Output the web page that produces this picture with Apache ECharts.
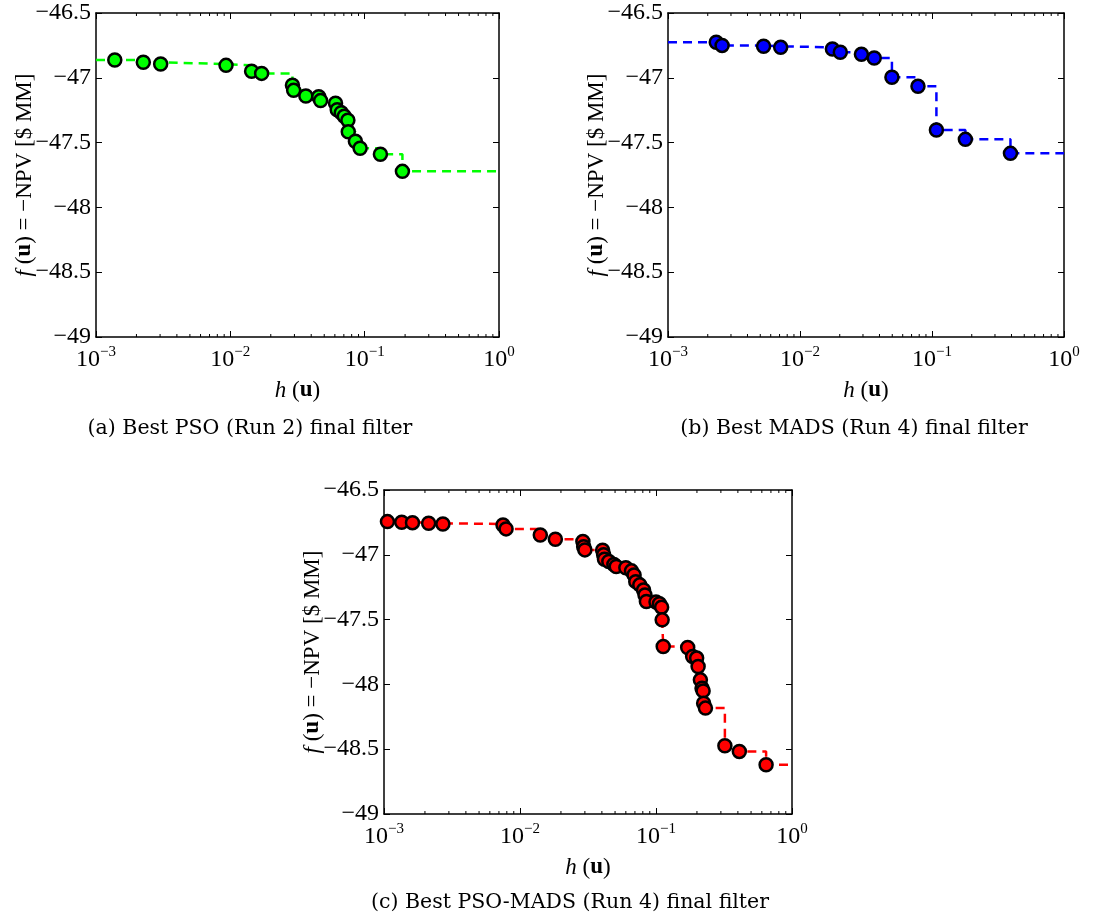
<!DOCTYPE html>
<html>
<head>
<meta charset="utf-8">
<script src="https://cdn.jsdelivr.net/npm/echarts@6/dist/echarts.min.js"></script>
<style>
  html, body { margin: 0; padding: 0; background: #ffffff; }
  #chart { width: 1099px; height: 922px; }
</style>
</head>
<body>
<div id="chart"></div>
<script>
// Final filter of each optimizer: constraint violation h(u) vs objective f(u) = -NPV [$ MM]
const psoH = [0.00138, 0.00225, 0.00303, 0.00929, 0.0144, 0.0171, 0.0290, 0.0296, 0.0365, 0.0455,
              0.0470, 0.0607, 0.0625, 0.0670, 0.0705, 0.0750, 0.0755, 0.0853, 0.0925, 0.131, 0.191];
const psoF = [-46.862, -46.880, -46.894, -46.904, -46.950, -46.966, -47.058, -47.097, -47.140, -47.146,
              -47.176, -47.197, -47.246, -47.270, -47.297, -47.328, -47.416, -47.490, -47.544, -47.590, -47.722];

const madsH = [0.00232, 0.00257, 0.0053, 0.00714, 0.0176, 0.0202, 0.0292, 0.0365, 0.0497, 0.0783,
               0.108, 0.179, 0.393];
const madsF = [-46.726, -46.750, -46.757, -46.765, -46.778, -46.803, -46.819, -46.847, -46.996, -47.066,
               -47.403, -47.475, -47.583];

const hybridH = [0.00106, 0.00135, 0.00162, 0.00213, 0.00271, 0.0075, 0.0079, 0.0141, 0.0182, 0.0290,
                 0.0294, 0.0300, 0.0405, 0.0412, 0.0418, 0.0450, 0.0490, 0.0510, 0.0600, 0.0660,
                 0.0690, 0.0710, 0.0760, 0.0810, 0.0830, 0.0850, 0.100, 0.106, 0.110, 0.111,
                 0.113, 0.171, 0.186, 0.199, 0.204, 0.212, 0.218, 0.222, 0.224, 0.231,
                 0.321, 0.410, 0.645];
const hybridF = [-46.744, -46.749, -46.752, -46.757, -46.762, -46.770, -46.800, -46.847, -46.880, -46.898,
                 -46.937, -46.962, -46.965, -47.000, -47.034, -47.052, -47.075, -47.090, -47.100, -47.124,
                 -47.155, -47.207, -47.232, -47.271, -47.310, -47.361, -47.365, -47.378, -47.404, -47.502,
                 -47.708, -47.715, -47.785, -47.797, -47.862, -47.965, -48.030, -48.050, -48.145, -48.183,
                 -48.473, -48.517, -48.620];

// Axis ranges and tick marks
const hMin = 0.001, hMax = 1;
const fMin = -49, fMax = -46.5, fStep = 0.5;
const minorTicks = [0.002, 0.003, 0.004, 0.005, 0.006, 0.007, 0.008, 0.009,
                    0.02, 0.03, 0.04, 0.05, 0.06, 0.07, 0.08, 0.09,
                    0.2, 0.3, 0.4, 0.5, 0.6, 0.7, 0.8, 0.9];

const captions = [
  '(a) Best PSO (Run 2) final filter',
  '(b) Best MADS (Run 4) final filter',
  '(c) Best PSO-MADS (Run 4) final filter'
];

const panels = [
  { h: psoH,    f: psoF,    color: '#00ff00', grid: { left: 96,  top: 13,  width: 403, height: 324 }, cap: [250, 429] },
  { h: madsH,   f: madsF,   color: '#0000ff', grid: { left: 668, top: 13,  width: 396, height: 324 }, cap: [854, 429] },
  { h: hybridH, f: hybridF, color: '#ff0000', grid: { left: 384, top: 490, width: 408, height: 324 }, cap: [570, 903] }
];

const SERIF = '"Liberation Serif", "Times New Roman", serif';
const CAPTION_FONT = '"DejaVu Serif", serif';
const MINUS = '\u2212';

function logLabel(v) {
  const e = Math.round(Math.log10(v));
  return '10{sup|' + (e < 0 ? MINUS + (-e) : String(e)) + '}';
}

const grids = [], xAxes = [], yAxes = [], series = [], graphics = [];

panels.forEach((p, i) => {
  grids.push(Object.assign({ show: false }, p.grid));
  const axisLine = { onZero: false, lineStyle: { color: '#000', width: 1.5 } };
  const tick = { inside: true, length: 6, lineStyle: { color: '#000', width: 1 } };
  const nameStyle = {
    color: '#000', fontFamily: SERIF, fontSize: 23,
    rich: {
      i: { fontFamily: SERIF, fontSize: 23, fontStyle: 'italic', color: '#000' },
      b: { fontFamily: SERIF, fontSize: 23, fontWeight: 'bold', color: '#000' }
    }
  };

  xAxes.push({
    type: 'log', logBase: 10, gridIndex: i, min: hMin, max: hMax, position: 'bottom',
    axisLine, axisTick: tick, splitLine: { show: false }, minorTick: { show: false },
    axisLabel: {
      formatter: logLabel, color: '#000', fontFamily: SERIF, fontSize: 24, margin: 8,
      rich: { sup: { fontFamily: SERIF, fontSize: 15, color: '#000', padding: [0, 0, 14, 0] } }
    },
    name: '{i|h} ({b|u})', nameLocation: 'middle', nameGap: 42, nameMoveOverlap: false,
    nameTextStyle: nameStyle
  });
  xAxes.push({
    type: 'log', logBase: 10, gridIndex: i, min: hMin, max: hMax, position: 'top',
    axisLine, axisTick: tick, axisLabel: { show: false }, splitLine: { show: false }
  });

  yAxes.push({
    type: 'value', gridIndex: i, min: fMin, max: fMax, interval: fStep, position: 'left',
    axisLine, axisTick: tick, splitLine: { show: false },
    axisLabel: {
      formatter: v => String(v).replace('-', MINUS),
      color: '#000', fontFamily: SERIF, fontSize: 24, margin: 5
    },
    name: '{i|f} ({b|u}) = ' + MINUS + 'NPV [$ MM]', nameLocation: 'middle', nameRotate: 90,
    nameGap: 60, nameMoveOverlap: false,
    nameTextStyle: nameStyle
  });
  yAxes.push({
    type: 'value', gridIndex: i, min: fMin, max: fMax, interval: fStep, position: 'right',
    axisLine, axisTick: tick, axisLabel: { show: false }, splitLine: { show: false }
  });

  const pts = p.h.map((h, k) => [h, p.f[k]]);
  const stairs = [[hMin, p.f[0]]].concat(pts, [[hMax, p.f[p.f.length - 1]]]);

  // dashed filter staircase
  series.push({
    type: 'line', xAxisIndex: 2 * i, yAxisIndex: 2 * i, data: stairs, step: 'end',
    symbol: 'none', silent: true, z: 2,
    lineStyle: { color: p.color, width: 2.5, type: [9, 6] }
  });
  // filter points
  series.push({
    type: 'scatter', xAxisIndex: 2 * i, yAxisIndex: 2 * i, data: pts, z: 3,
    symbol: 'circle', symbolSize: 13,
    itemStyle: { color: p.color, borderColor: '#000', borderWidth: 2.5, opacity: 1 }
  });
  // minor log ticks on bottom and top edges
  series.push({
    type: 'custom', xAxisIndex: 2 * i, yAxisIndex: 2 * i, silent: true, clip: false, z: 4,
    data: minorTicks.map(v => [v, fMin]),
    renderItem: (params, api) => {
      const b = api.coord([api.value(0), fMin]);
      const t = api.coord([api.value(0), fMax]);
      const st = { stroke: '#000', lineWidth: 1 };
      return {
        type: 'group',
        children: [
          { type: 'line', shape: { x1: b[0], y1: b[1], x2: b[0], y2: b[1] - 3 }, style: st },
          { type: 'line', shape: { x1: t[0], y1: t[1], x2: t[0], y2: t[1] + 3 }, style: st }
        ]
      };
    }
  });

  graphics.push({
    type: 'text', x: p.cap[0], y: p.cap[1],
    style: {
      text: captions[i], fill: '#000', font: '20.5px ' + CAPTION_FONT,
      textAlign: 'center', textVerticalAlign: 'middle'
    }
  });
});

const chart = echarts.init(document.getElementById('chart'), null, { renderer: 'canvas' });
chart.setOption({
  backgroundColor: '#ffffff',
  animation: false,
  grid: grids,
  xAxis: xAxes,
  yAxis: yAxes,
  series: series,
  graphic: graphics
});
</script>
</body>
</html>
